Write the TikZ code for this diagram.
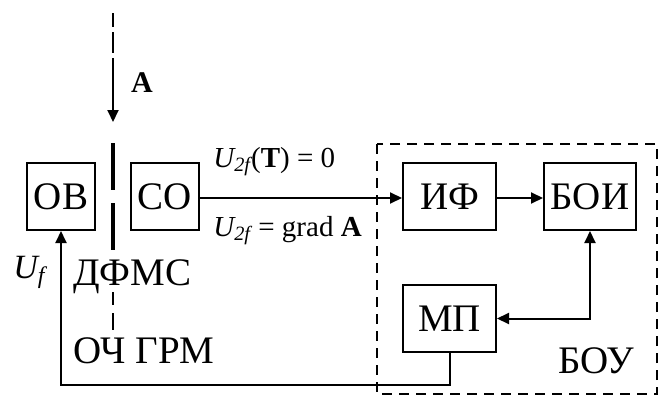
\documentclass[tikz,border=0pt]{standalone}
\usepackage{fontspec}
\setmainfont{Liberation Serif}
\usepackage{tikz}
\usetikzlibrary{arrows.meta, positioning}

\begin{document}
\begin{tikzpicture}[
    x=0.5pt, y=-0.5pt,
    font=\fontsize{19.5}{23}\selectfont,
    block/.style={draw, line width=1pt, inner sep=0pt, minimum width=#1, minimum height=33.5pt},
    block/.default=34pt,
    lbl/.style={inner sep=0pt, anchor=base west},
    small/.style={font=\fontsize{14.5}{17}\selectfont},
    arrow/.style={-{Triangle[length=6pt, width=5.5pt]}, line width=1pt},
    barrier/.style={line width=2pt},
    dash line/.style={line width=1.1pt, dash pattern=on 5pt off 3.5pt}
]
\useasboundingbox (0,0) rectangle (664,396);

% Blocks
\node[block] (ov) at (61,196.5) {ОВ};
\node[block] (co) at (164.5,196.5) {СО};
\node[block=46.5pt] (if) at (449.5,196.5) {ИФ};
\node[block=46pt] (boi) at (590,196.5) {БОИ};
\node[block=46.5pt] (mp) at (449.5,318.5) {МП};

% Control unit frame
\draw[dash line] (377,144) rectangle (657,394);
\node[lbl] (bou) at (558,373) {БОУ};

% Incoming field A
\coordinate (atop) at (113,13);
\coordinate (amid) at (113,58);
\coordinate (abot) at (113,122);
\draw[dash line, dash pattern=on 7pt off 2.5pt on 10.5pt off 2.5pt] (atop) -- (amid);
\draw[arrow] (amid) -- (abot);
\node[font=\fontsize{15}{18}\selectfont\bfseries] (alab) at (142,83) {A};

% Diaphragm
\coordinate (d1) at (113,143);
\coordinate (d2) at (113,190);
\coordinate (d3) at (113,203);
\coordinate (d4) at (113,250);
\draw[barrier] (d1) -- (d2);
\draw[barrier] (d3) -- (d4);
\node[lbl] (dfms) at (73,285) {ДФМС};
\coordinate (o1) at (113,292);
\coordinate (o2) at (113,330);
\draw[dash line, dash pattern=on 6.5pt off 4pt on 9pt off 2pt] (o1) -- (o2);
\node[lbl] (ochgrm) at (73,363) {ОЧ ГРМ};

% Signal path
\draw[arrow] (co.east |- 0,198) -- (if.west |- 0,198);
\draw[arrow] (if.east |- 0,198) -- (boi.west |- 0,198);
\draw[{Triangle[length=6pt, width=5.5pt]}-{Triangle[length=6pt, width=5.5pt]}, line width=1pt]
  (mp.east) -| (boi.south);
\draw[arrow] (mp.south) -- ++(0,32) -| (ov.south);

% Labels
\node[lbl, font=\fontsize{17}{20}\selectfont] (uf) at (13,278) {\textit{U\textsubscript{f}}};
\node[lbl, small] (ut) at (213,167) {\textit{U\textsubscript{2f}}(\textbf{T}) = 0};
\node[lbl, small] (ug) at (213,236) {\textit{U\textsubscript{2f}} = grad \textbf{A}};

\end{tikzpicture}
\end{document}
